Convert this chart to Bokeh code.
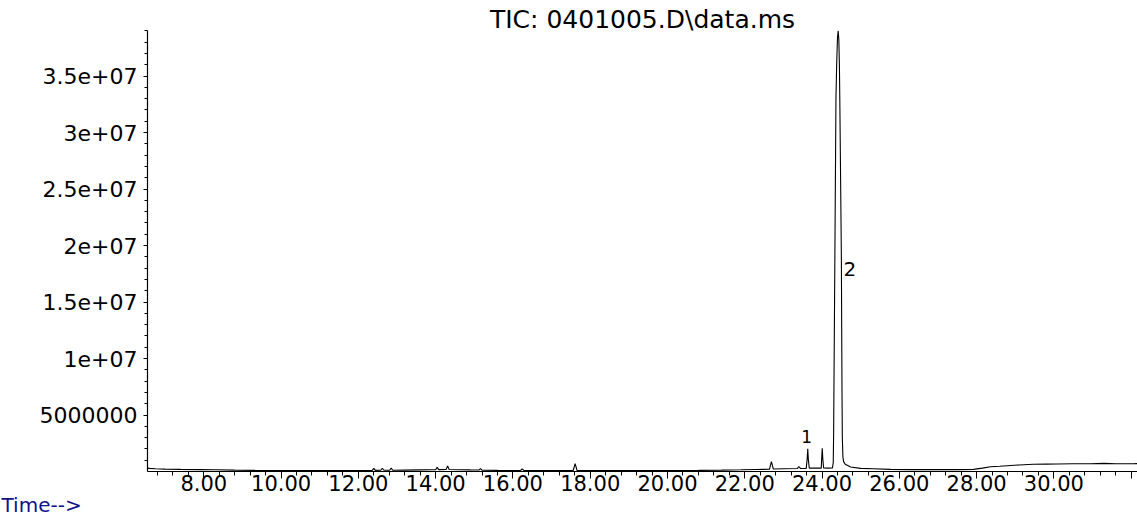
from bokeh.plotting import figure
from bokeh.models import Range1d, FixedTicker, Title
from bokeh.core.properties import value
from bokeh.embed import file_html
from bokeh.resources import INLINE

# ---- data (retention time in min, abundance) ----
time_min = [6.54, 6.60, 6.75, 7.00, 7.40, 7.90, 8.30, 8.80, 9.30, 10.0, 10.8, 11.6,
            12.2, 12.36, 12.40, 12.44, 12.58, 12.62, 12.66, 12.81, 12.85, 12.89,
            13.2, 13.6, 13.9, 14.00, 14.04, 14.08, 14.27, 14.31, 14.35, 14.6, 14.9,
            15.12, 15.16, 15.20, 15.6, 16.0, 16.20, 16.24, 16.28, 16.8, 17.3,
            17.56, 17.61, 17.66, 18.2, 19.0, 20.0, 20.8, 21.4, 21.9, 22.3,
            22.64, 22.69, 22.74, 23.0, 23.36, 23.40, 23.44,
            23.59, 23.615, 23.63, 23.645, 23.67, 23.85,
            23.98, 23.99, 24.005, 24.02, 24.04, 24.15,
            24.27, 24.29, 24.30, 24.33, 24.36, 24.38, 24.40, 24.418, 24.435, 24.45,
            24.46, 24.48, 24.50, 24.515, 24.525, 24.54, 24.56, 24.60, 24.74,
            25.0, 25.33, 25.77, 26.3, 26.9, 27.5, 27.92, 28.15, 28.36, 28.6, 28.79,
            29.1, 29.47, 29.8, 30.09, 30.5, 30.94, 31.3, 31.6, 32.05, 32.16]
abundance = [3.0e5, 2.8e5, 2.4e5, 2.1e5, 1.9e5, 1.7e5, 1.5e5, 1.2e5, 1.0e5, 9.0e4, 8.0e4, 8.0e4,
             9.0e4, 1.0e5, 2.8e5, 1.0e5, 1.1e5, 2.9e5, 1.1e5, 1.1e5, 3.0e5, 1.1e5,
             1.2e5, 1.4e5, 1.5e5, 1.6e5, 3.6e5, 1.7e5, 1.8e5, 4.8e5, 1.8e5, 1.6e5, 1.4e5,
             1.3e5, 2.6e5, 1.2e5, 1.0e5, 9.0e4, 9.0e4, 2.3e5, 9.0e4, 8.0e4, 8.0e4,
             9.0e4, 7.0e5, 9.0e4, 8.0e4, 8.0e4, 9.0e4, 1.0e5, 1.2e5, 1.5e5, 1.8e5,
             2.0e5, 8.8e5, 2.2e5, 2.4e5, 2.6e5, 4.4e5, 2.7e5,
             2.8e5, 1.1e6, 2.02e6, 1.1e6, 3.0e5, 3.0e5,
             3.0e5, 1.1e6, 2.05e6, 1.1e6, 3.2e5, 3.0e5,
             3.2e5, 8.0e5, 3.4e6, 1.8e7, 3.3e7, 3.62e7, 3.84e7, 3.90e7, 3.82e7, 3.58e7,
             3.29e7, 2.6e7, 1.9e7, 8.0e6, 3.0e6, 1.3e6, 8.5e5, 6.5e5, 4.0e5,
             2.8e5, 2.4e5, 1.9e5, 1.7e5, 1.65e5, 1.7e5, 1.9e5, 3.0e5, 4.2e5, 4.6e5, 5.1e5,
             5.8e5, 6.4e5, 6.5e5, 6.6e5, 6.8e5, 6.9e5, 7.2e5, 6.9e5, 6.9e5, 7.0e5]

x_tick_values = [8, 10, 12, 14, 16, 18, 20, 22, 24, 26, 28, 30, 32]
x_tick_labels = ["8.00", "10.00", "12.00", "14.00", "16.00", "18.00", "20.00",
                 "22.00", "24.00", "26.00", "28.00", "30.00", ""]
y_tick_values = [5e6, 1e7, 1.5e7, 2e7, 2.5e7, 3e7, 3.5e7]
y_tick_labels = ["5000000", "1e+07", "1.5e+07", "2e+07", "2.5e+07", "3e+07", "3.5e+07"]

peak_label_text = ["1", "2"]
peak_label_time = [23.60, 24.555]
peak_label_abundance = [3.1e6, 1.79e7]

title_text = "TIC: 0401005.D\\data.ms"
xlabel_text = "Time-->"

FONT = "DejaVu Sans"

p = figure(width=1137, height=521,
           x_range=Range1d(6.543, 32.164), y_range=Range1d(0, 3.9027e7),
           output_backend="svg", toolbar_location=None,
           min_border_left=147, min_border_right=0, min_border_top=30, min_border_bottom=50)
p.outline_line_color = None
p.xgrid.grid_line_color = None
p.ygrid.grid_line_color = None
p.background_fill_color = "white"
p.border_fill_color = "white"

p.line(time_min, abundance, line_color="black", line_width=1.1)

# peak labels
p.text(x=[peak_label_time[0]], y=[peak_label_abundance[0]], text=[peak_label_text[0]],
       text_font=value(FONT), text_font_size="17px", text_align="center",
       text_baseline="alphabetic", text_color="black")
p.text(x=[peak_label_time[1]], y=[peak_label_abundance[1]], text=[peak_label_text[1]],
       text_font=value(FONT), text_font_size="20px", text_align="left",
       text_baseline="alphabetic", text_color="black")

# x axis
xa = p.xaxis[0]
minor_x = [round(6.8 + 0.4 * i, 2) for i in range(64)]
xa.ticker = FixedTicker(ticks=x_tick_values, minor_ticks=minor_x)
xa.major_label_overrides = {float(v): s for v, s in zip(x_tick_values, x_tick_labels)}
xa.axis_line_color = "black"
xa.axis_line_width = 1.2
xa.major_tick_line_color = "black"
xa.minor_tick_line_color = "black"
xa.major_tick_in = 0
xa.major_tick_out = 7
xa.minor_tick_in = 0
xa.minor_tick_out = 4
xa.major_label_standoff = -4
xa.major_label_text_font = FONT
xa.major_label_text_font_size = "21px"
xa.major_label_text_color = "black"

# y axis
ya = p.yaxis[0]
minor_y = [1e6 * i for i in range(1, 40)]
ya.ticker = FixedTicker(ticks=y_tick_values, minor_ticks=minor_y)
ya.major_label_overrides = {float(v): s for v, s in zip(y_tick_values, y_tick_labels)}
ya.axis_line_color = "black"
ya.axis_line_width = 1.2
ya.major_tick_line_color = "black"
ya.minor_tick_line_color = "black"
ya.major_tick_in = 0
ya.major_tick_out = 4
ya.minor_tick_in = 0
ya.minor_tick_out = 3
ya.major_label_standoff = 6
ya.major_label_text_font = FONT
ya.major_label_text_font_size = "22px"
ya.major_label_text_color = "black"

# title above the frame
p.title.text = title_text
p.title.align = "center"
p.title.text_font = FONT
p.title.text_font_size = "25px"
p.title.text_font_style = "normal"
p.title.text_color = "black"
p.title.standoff = -6

# "Time-->" label below the x axis, pushed to the left edge
p.add_layout(Title(text=xlabel_text, align="left", offset=-146, standoff=-6,
                   text_font=FONT, text_font_size="20px", text_font_style="normal",
                   text_color="#10108a"), "below")

open("out.html", "w").write(file_html(p, INLINE))
